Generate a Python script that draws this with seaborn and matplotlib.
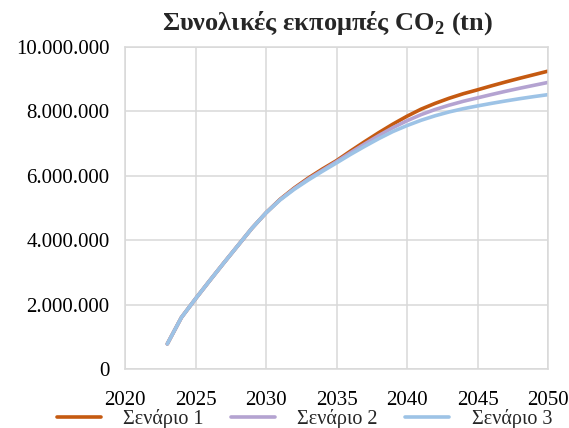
import matplotlib
matplotlib.use("Agg")
import matplotlib.pyplot as plt
import matplotlib.ticker as mticker
import seaborn as sns
import pandas as pd

# Cumulative CO2 emissions (million tonnes) per scenario, 2023-2050
years = list(range(2023, 2051))
scenario_1 = [0.78, 1.60, 2.18, 2.74, 3.29, 3.83, 4.37, 4.85,
              5.27, 5.62, 5.93, 6.21, 6.47, 6.77, 7.06, 7.34, 7.605, 7.85,
              8.07, 8.25, 8.41, 8.55, 8.67, 8.795, 8.915, 9.03, 9.14, 9.25]
scenario_2 = [0.78, 1.60, 2.18, 2.74, 3.29, 3.83, 4.37, 4.85,
              5.26, 5.60, 5.90, 6.17, 6.44, 6.72, 6.99, 7.25, 7.495, 7.71,
              7.90, 8.06, 8.195, 8.315, 8.42, 8.525, 8.625, 8.72, 8.81, 8.90]
scenario_3 = [0.78, 1.60, 2.18, 2.74, 3.29, 3.83, 4.37, 4.85,
              5.25, 5.58, 5.87, 6.14, 6.40, 6.665, 6.915, 7.155, 7.375, 7.56,
              7.725, 7.865, 7.985, 8.085, 8.17, 8.25, 8.325, 8.395, 8.46, 8.52]
series_names = ["Σενάριο 1", "Σενάριο 2", "Σενάριο 3"]
series_colors = ["#C55A11", "#B4A3D1", "#9DC3E6"]
x_ticks = list(range(2020, 2051, 5))
y_ticks = list(range(0, 10_000_001, 2_000_000))

rows = []
for name, vals in zip(series_names, [scenario_1, scenario_2, scenario_3]):
    for yr, v in zip(years, vals):
        rows.append({"year": yr, "tn": v * 1_000_000, "scenario": name})
df = pd.DataFrame(rows)

sns.set_theme(style="white")
plt.rcParams["font.family"] = ["Liberation Serif", "DejaVu Serif"]

fig = plt.figure(figsize=(5.69, 4.28), dpi=100)
ax = fig.add_axes([125 / 569, 1 - 369 / 428, (548 - 125) / 569, (369 - 47) / 428])

sns.lineplot(data=df, x="year", y="tn", hue="scenario",
             palette=dict(zip(series_names, series_colors)),
             linewidth=2.6, ax=ax, legend=False)
for ln in ax.get_lines():
    ln.set_solid_joinstyle("round")
    ln.set_solid_capstyle("round")

ax.set_xlim(2020, 2050)
ax.set_ylim(0, 10_000_000)
ax.set_xticks(x_ticks)
ax.set_yticks(y_ticks)
ax.yaxis.set_major_formatter(
    mticker.FuncFormatter(lambda v, _: f"{int(v):,}".replace(",", ".")))
ax.grid(True, color="#D9D9D9", linewidth=1.1)
ax.set_axisbelow(True)
for s in ax.spines.values():
    s.set_color("#D9D9D9")
    s.set_linewidth(1.1)
ax.tick_params(axis="both", length=0, labelsize=15, colors="black")
ax.tick_params(axis="y", pad=11)
ax.tick_params(axis="x", pad=16)
ax.set_xlabel("")
ax.set_ylabel("")

fig.text(0.575, 0.945, r"Συνολικές εκπομπές CO$_\mathregular{2}$ (tn)",
         ha="center", va="center", fontsize=19, fontweight="bold")

handles = [plt.Line2D([], [], color=c, linewidth=2.6) for c in series_colors]
fig.legend(handles, series_names, loc="center", ncol=3,
           bbox_to_anchor=(0.535, 0.022), frameon=False, fontsize=14.5,
           handlelength=2.2, columnspacing=1.35, handletextpad=1.1)

fig.savefig("out.png", dpi=100)
